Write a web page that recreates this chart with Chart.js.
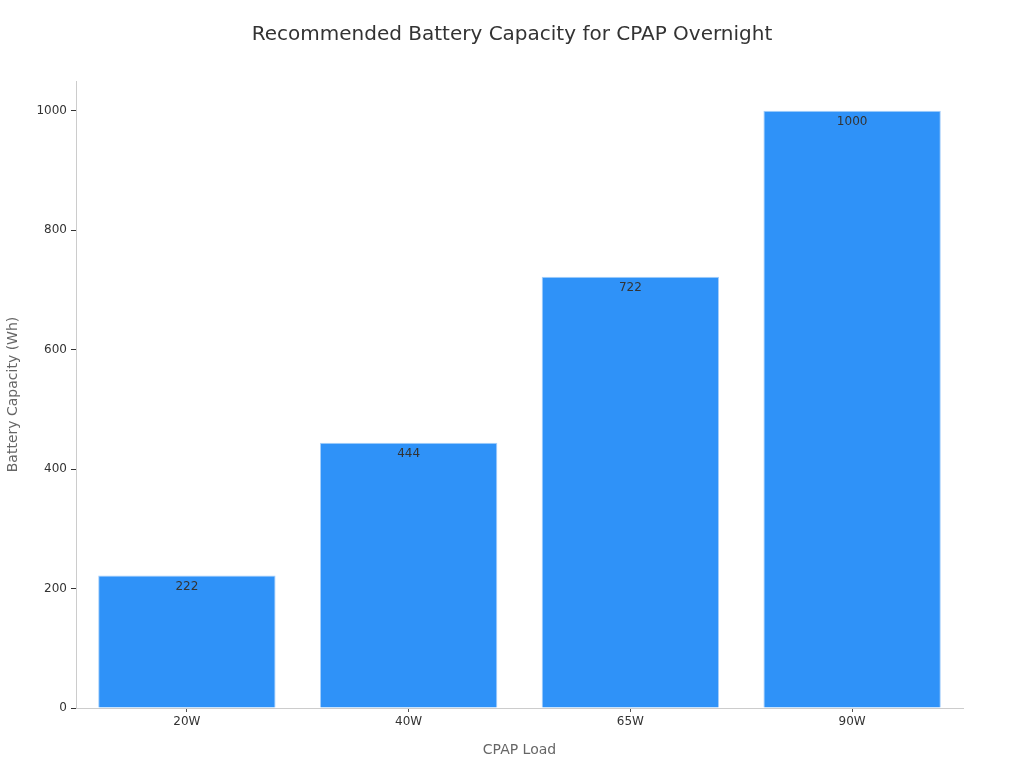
<!DOCTYPE html>
<html>
<head>
<meta charset="utf-8">
<script src="https://cdn.jsdelivr.net/npm/chart.js@4/dist/chart.umd.min.js"></script>
<style>
  html, body { margin: 0; padding: 0; background: #fff; }
</style>
</head>
<body>
<canvas id="chartCanvas" width="1024" height="768"></canvas>
<script>
const loads = ['20W', '40W', '65W', '90W'];
const capacities = [222, 444, 722, 1000];
const yTicks = [0, 200, 400, 600, 800, 1000];

const barFill = '#2f92f8';
const barEdge = '#a8d0fb';

// draws the value just inside the top of every bar
const barValueLabels = {
  id: 'barValueLabels',
  afterDatasetsDraw(chart) {
    const ctx = chart.ctx;
    const meta = chart.getDatasetMeta(0);
    ctx.save();
    ctx.font = '12px "DejaVu Sans", sans-serif';
    ctx.fillStyle = '#333';
    ctx.textAlign = 'center';
    ctx.textBaseline = 'middle';
    meta.data.forEach((bar, i) => {
      ctx.fillText(String(capacities[i]), bar.x, bar.y + 11);
    });
    ctx.restore();
  }
};

const ctx = document.getElementById('chartCanvas').getContext('2d');
new Chart(ctx, {
  type: 'bar',
  data: {
    labels: loads,
    datasets: [{
      data: capacities,
      backgroundColor: barFill,
      borderColor: barEdge,
      borderWidth: 1,
      categoryPercentage: 1,
      barPercentage: 0.8
    }]
  },
  options: {
    responsive: false,
    animation: false,
    layout: { padding: 0 },
    plugins: {
      legend: { display: false },
      tooltip: { enabled: false },
      title: {
        display: true,
        text: 'Recommended Battery Capacity for CPAP Overnight',
        color: '#333',
        font: { family: '"DejaVu Sans", sans-serif', size: 20, weight: 'normal' },
        padding: { top: 23, bottom: 34 }
      }
    },
    scales: {
      x: {
        afterFit: s => { s.height = 60; },
        border: { color: '#ccc' },
        grid: { display: true, offset: false, drawOnChartArea: false, drawTicks: true, tickLength: 4, color: '#555' },
        ticks: {
          color: '#333',
          padding: 3,
          font: { family: '"DejaVu Sans", sans-serif', size: 12 }
        },
        title: {
          display: true,
          text: 'CPAP Load',
          color: '#666',
          font: { family: '"DejaVu Sans", sans-serif', size: 14 },
          padding: { top: 4, bottom: 9 }
        }
      },
      y: {
        min: 0,
        max: 1050,
        afterFit: s => { s.width = 76; },
        afterBuildTicks: s => { s.ticks = yTicks.map(v => ({ value: v })); },
        border: { color: '#ccc' },
        grid: { display: true, drawOnChartArea: false, drawTicks: true, tickLength: 5, color: '#333' },
        ticks: {
          color: '#333',
          padding: 4,
          callback: v => String(v),
          font: { family: '"DejaVu Sans", sans-serif', size: 12 }
        },
        title: {
          display: true,
          text: 'Battery Capacity (Wh)',
          color: '#666',
          font: { family: '"DejaVu Sans", sans-serif', size: 14 },
          padding: { top: 5, bottom: 4 }
        }
      },
      // empty right-hand strip so the title stays centred on the page
      yRight: {
        position: 'right',
        display: true,
        afterFit: s => { s.width = 61; },
        border: { display: false },
        grid: { display: false },
        ticks: { display: false }
      }
    }
  },
  plugins: [barValueLabels]
});
</script>
</body>
</html>
